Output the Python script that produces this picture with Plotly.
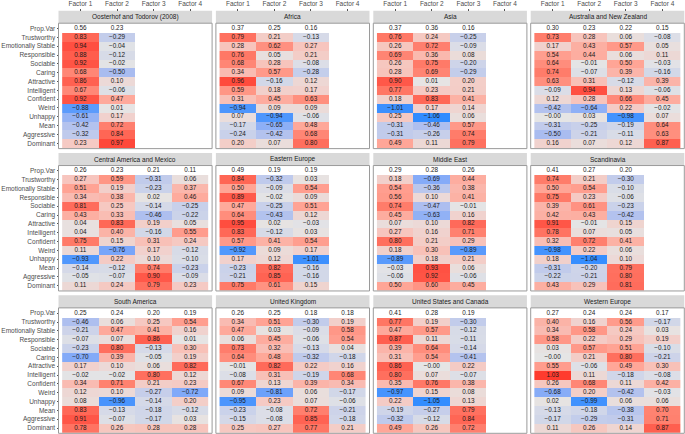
import plotly.graph_objects as go

rows = ['Prop.Var', 'Trustworthy', 'Emotionally Stable', 'Responsible', 'Sociable', 'Caring', 'Attractive',
        'Intelligent', 'Confident', 'Weird', 'Unhappy', 'Mean', 'Aggressive', 'Dominant']
factors = ['Factor 1', 'Factor 2', 'Factor 3', 'Factor 4']

# each region: one list per factor, first value is Prop.Var
oosterhof = [
    [.56, .83, .94, .88, .92, .68, .86, .67, .92, -.88, -.61, -.42, -.32, .23],
    [.23, -.29, -.04, -.12, -.02, -.50, .10, -.06, .47, .01, .17, .72, .84, .97],
]
africa = [
    [.37, .79, .28, .76, .68, .34, .96, .59, .31, -.94, .07, -.17, -.24, .20],
    [.25, .21, .62, .05, .28, .57, -.16, .18, .45, .09, -.94, -.65, -.42, .07],
    [.16, -.13, .27, .21, -.08, -.28, .12, .17, .63, .09, -.06, .48, .68, .80],
]
asia = [
    [.37, .76, .26, .69, .26, .28, .90, .77, .18, -1.01, .25, -.31, -.31, .49],
    [.36, .24, .72, .36, .75, .69, .01, .23, .83, .17, -1.06, -.46, -.26, .11],
    [.16, -.25, -.09, .08, -.20, -.29, .20, .21, .41, .14, .06, .57, .74, .79],
]
australia_nz = [
    [.30, .73, .17, .54, .64, .74, .63, -.09, .12, -.42, -0.0, -.31, -.50, .16],
    [.23, .28, .43, .44, -.01, -.07, .31, .94, .28, -.64, .03, -.25, -.21, .07],
    [.22, .06, .57, .06, .50, .39, -.12, .13, .66, .22, -.98, -.19, -.11, .12],
    [.15, -.08, .05, .11, -.03, -.16, .39, -.06, .45, -.02, .07, .64, .63, .87],
]
central_america = [
    [.26, .27, .51, .34, .81, .43, .04, .04, .75, .11, -.93, -.14, -.05, .11],
    [.23, .59, .19, .38, .25, .33, .83, .40, .15, -.76, .22, -.12, -.07, .24],
    [.21, -.31, -.23, .02, -.14, -.46, .19, -.16, .31, .17, .10, .74, .90, .79],
    [.11, .06, .37, .46, -.25, -.22, .05, .55, .24, -.12, -.10, -.23, -.09, .23],
]
eastern_europe = [
    [.49, .84, .50, .89, .47, .64, .95, .83, .57, -.92, .17, -.23, -.21, .75],
    [.19, -.32, -.09, -.02, -.25, -.43, .02, -.12, .41, .09, .12, .82, .85, .61],
    [.19, .03, .54, .09, .51, .12, -.03, .03, .54, .17, -1.01, -.16, -.16, .15],
]
middle_east = [
    [.29, .18, .54, .56, .74, .45, .07, .27, .80, .18, -.89, -.03, -.06, .50],
    [.28, -.69, -.36, .10, -.47, -.63, .10, .16, .21, .30, .18, .93, .92, .60],
    [.26, .44, .38, .41, -.01, .16, .82, .71, .29, -.89, .21, .06, -.06, .45],
]
scandinavia = [
    [.41, .74, .50, .75, .39, .42, .91, .78, .32, -.98, .18, -.31, -.22, .43],
    [.27, .21, .54, .23, .61, .43, -.01, .07, .72, .22, -1.04, -.20, -.21, .29],
    [.20, -.30, -.10, -.06, -.23, -.42, .15, .05, .41, .06, .10, .79, .80, .81],
]
south_america = [
    [.25, -.46, -.21, -.07, -.23, -.70, .17, -.02, .34, .12, .08, .83, .91, .78],
    [.24, .06, .47, .07, .80, .39, .10, -.02, .71, .10, -.96, -.13, -.07, .26],
    [.20, .25, .41, .86, -.13, -.05, .06, .80, .21, -.27, -.14, -.18, -.17, .28],
    [.19, .54, .16, .01, .30, .19, .82, .12, .23, -.72, .20, -.12, .03, .28],
]
united_kingdom = [
    [.26, .34, .47, .06, .73, .64, -.01, -.08, .67, .09, -.95, -.23, -.15, .25],
    [.25, .51, .03, .45, .32, .48, .82, .31, .13, -.81, .23, -.08, -.08, .27],
    [.18, -.30, -.09, -.06, -.13, -.32, .22, -.19, .39, .06, .07, .72, .85, .77],
    [.18, .19, .58, .54, .04, -.18, .16, .68, .34, -.17, -.06, -.21, -.18, .21],
]
us_canada = [
    [.41, .77, .47, .87, .39, .31, .86, .80, .35, -.97, .22, -.19, -.32, .49],
    [.28, .19, .57, .11, .64, .54, -0.0, .07, .76, .15, -1.05, -.27, -.12, .26],
    [.19, -.30, -.12, -.11, -.14, -.41, .22, -.07, .38, .08, .13, .79, .84, .72],
]
western_europe = [
    [.27, .40, .34, .58, .03, -0.0, .55, 1.03, .26, -.68, .02, -.13, -.17, .11],
    [.24, .16, .58, .22, .57, .21, -.06, .11, .68, .20, -.99, -.18, -.29, .26],
    [.24, .56, .24, .29, .51, .80, .49, -.18, .11, -.42, .06, -.38, -.31, .14],
    [.17, -.17, .03, .19, -.10, -.21, .30, -.08, .42, -.03, .06, .70, .71, .87],
]

panels = [
    ('Oosterhof and Todorov (2008)', oosterhof), ('Africa', africa), ('Asia', asia),
    ('Australia and New Zealand', australia_nz),
    ('Central America and Mexico', central_america), ('Eastern Europe', eastern_europe),
    ('Middle East', middle_east), ('Scandinavia', scandinavia),
    ('South America', south_america), ('United Kingdom', united_kingdom),
    ('United States and Canada', us_canada), ('Western Europe', western_europe),
]

W, H = 685, 434
LEFT, PANEL_W, PITCH_X = 58.5, 153.6, 157.4
STRIP_TOP, STRIP_H, PANEL_H, PITCH_Y = 8.7, 12.6, 126.0, 143.0
FONT = 'Liberation Sans'

ZMIN, ZMAX = -1.06, 1.03
stops = [(-1.06, '#318cff'), (-.75, '#7aa6fa'), (-.5, '#a9bcf0'), (-.25, '#c8d0ea'), (0, '#e5e5e5'),
         (.25, '#f6c8c1'), (.5, '#ffa596'), (.75, '#ff7a68'), (1.03, '#ff3b2e')]
colorscale = [[(v - ZMIN) / (ZMAX - ZMIN), c] for v, c in stops]


def fmt(v):
    return f'{v:.2f}'.replace('-', '\u2212')


fig = go.Figure()
shapes = []
annotations = []
axes = {}

for i, (name, cols) in enumerate(panels):
    n = i + 1
    r, c = i // 4, i % 4
    x0 = LEFT + c * PITCH_X
    x1 = x0 + PANEL_W
    strip_y = STRIP_TOP + r * PITCH_Y
    y0 = strip_y + STRIP_H
    y1 = y0 + PANEL_H

    xs, ys, texts = [], [], []
    for f, col in zip(factors, cols):
        for row, v in zip(rows, col):
            xs.append(f)
            ys.append(row)
            texts.append(fmt(v))

    z = [[None] * 4]  # Prop.Var row stays unfilled
    for j in range(1, len(rows)):
        z.append([col[j] for col in cols] + [None] * (4 - len(cols)))

    xname = 'x' if n == 1 else f'x{n}'
    yname = 'y' if n == 1 else f'y{n}'
    fig.add_trace(go.Heatmap(x=factors, y=rows, z=z, xaxis=xname, yaxis=yname, zmin=ZMIN, zmax=ZMAX,
                             colorscale=colorscale, showscale=False, hoverongaps=False))
    fig.add_trace(go.Scatter(x=xs, y=ys, text=texts, mode='text', xaxis=xname, yaxis=yname, showlegend=False,
                             textfont=dict(family=FONT, size=6.4, color='#1a1a1a'), hoverinfo='skip'))

    axes['xaxis' if n == 1 else f'xaxis{n}'] = dict(
        domain=[x0 / W, x1 / W], anchor='free', position=1 - strip_y / H, side='top',
        type='category', categoryorder='array', categoryarray=factors, range=[-0.6, 3.6],
        showgrid=False, zeroline=False, showline=False,
        ticks='outside' if r == 0 else '', ticklen=2, tickwidth=0.7, tickcolor='#555555',
        showticklabels=r == 0, tickfont=dict(family=FONT, size=6.5, color='#4d4d4d'))
    axes['yaxis' if n == 1 else f'yaxis{n}'] = dict(
        domain=[1 - y1 / H, 1 - y0 / H], anchor='free', position=x0 / W,
        type='category', categoryorder='array', categoryarray=rows, range=[13.6, -0.6],
        showgrid=False, zeroline=False, showline=False,
        ticks='outside' if c == 0 else '', ticklen=2, tickwidth=0.7, tickcolor='#555555',
        showticklabels=c == 0, tickfont=dict(family=FONT, size=6.5, color='#4d4d4d'))

    shapes.append(dict(type='rect', xref='paper', yref='paper', x0=x0 / W, x1=x1 / W,
                       y0=1 - y0 / H, y1=1 - strip_y / H, fillcolor='#d9d9d9', line=dict(width=0), layer='below'))
    shapes.append(dict(type='rect', xref='paper', yref='paper', x0=x0 / W, x1=x1 / W,
                       y0=1 - y1 / H, y1=1 - y0 / H, fillcolor='rgba(0,0,0,0)',
                       line=dict(color='#9a9a9a', width=1), layer='above'))
    annotations.append(dict(text=name, xref='paper', yref='paper', x=(x0 + x1) / 2 / W,
                            y=1 - (strip_y + STRIP_H / 2) / H, showarrow=False, xanchor='center', yanchor='middle',
                            font=dict(family=FONT, size=6.5, color='#1a1a1a')))

fig.update_layout(width=W, height=H, margin=dict(l=0, r=0, t=0, b=0), paper_bgcolor='white',
                  plot_bgcolor='white', showlegend=False, shapes=shapes, annotations=annotations, **axes)

fig.write_html('out.html', config={'displayModeBar': False}, post_script="document.body.style.margin='0';")
